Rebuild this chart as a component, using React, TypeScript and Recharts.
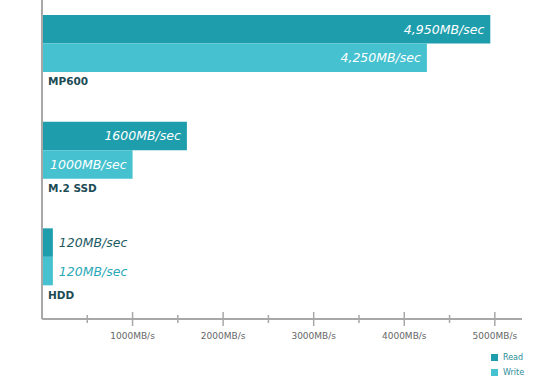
import React from 'react';
import { BarChart, Bar, XAxis, YAxis, LabelList } from 'recharts';

const categories = ['MP600', 'M.2 SSD', 'HDD'];
const readValues = [4950, 1600, 120];
const writeValues = [4250, 1000, 120];
const readLabels = ['4,950MB/sec', '1600MB/sec', '120MB/sec'];
const writeLabels = ['4,250MB/sec', '1000MB/sec', '120MB/sec'];
const xTicks = [500, 1000, 1500, 2000, 2500, 3000, 3500, 4000, 4500, 5000];

const READ = '#1e9ead';
const WRITE = '#45c1cf';
const AXIS = '#a8a8a8';
const FONT = '"DejaVu Sans", sans-serif';

const data = categories.map((name, i) => ({
  name,
  read: readValues[i],
  write: writeValues[i],
  readLabel: readLabels[i],
  writeLabel: writeLabels[i],
}));

// label inside the bar (white) when it fits, otherwise just to the right in the series colour
const valueLabel = (outsideColor: string) => (props: any) => {
  const { x, y, width, height, value } = props;
  const inside = width > 60;
  return (
    <text
      x={inside ? x + width - 6 : x + width + 6}
      y={y + height / 2}
      textAnchor={inside ? 'end' : 'start'}
      dominantBaseline="central"
      fill={inside ? '#ffffff' : outsideColor}
      fontStyle="italic"
      fontSize={12.5}
      fontFamily={FONT}
    >
      {value}
    </text>
  );
};

const XTick = (props: any) => {
  const { x, y, payload } = props;
  const major = payload.value % 1000 === 0;
  const h = major ? 7 : 4;
  return (
    <g>
      <line x1={x} x2={x} y1={y - h} y2={y + h} stroke={AXIS} strokeWidth={1.5} />
      {major && (
        <text x={x} y={y + 17} textAnchor="middle" dominantBaseline="central" fontSize={9} fill="#666" fontFamily={FONT}>
          {`${payload.value}MB/s`}
        </text>
      )}
    </g>
  );
};

const YTick = (props: any) => {
  const { x, y, payload } = props;
  return (
    <text x={x + 6} y={y + 38} dominantBaseline="central" fontSize={10.5} fontWeight="bold" fill="#1d4c55" fontFamily={FONT}>
      {payload.value}
    </text>
  );
};

export default function App() {
  return (
    <div style={{ position: 'absolute', left: 0, top: -10, width: 550, height: 386 }}>
      <BarChart
        width={550}
        height={386}
        data={data}
        layout="vertical"
        margin={{ top: 0, right: 28, left: 0, bottom: 0 }}
        barGap={0}
        barSize={28.5}
      >
        <XAxis
          type="number"
          domain={[0, 5300]}
          ticks={xTicks}
          interval={0}
          height={57}
          tickSize={0}
          tickMargin={0}
          tickLine={false}
          axisLine={{ stroke: AXIS, strokeWidth: 2 }}
          tick={<XTick />}
        />
        <YAxis
          type="category"
          dataKey="name"
          width={42}
          padding={{ top: 0, bottom: 9 }}
          tickSize={0}
          tickMargin={0}
          tickLine={false}
          axisLine={{ stroke: AXIS, strokeWidth: 2 }}
          tick={<YTick />}
        />
        <Bar dataKey="read" fill={READ} isAnimationActive={false}>
          <LabelList dataKey="readLabel" content={valueLabel('#1d5a63')} />
        </Bar>
        <Bar dataKey="write" fill={WRITE} isAnimationActive={false}>
          <LabelList dataKey="writeLabel" content={valueLabel('#2aa8b8')} />
        </Bar>
      </BarChart>
      <div style={{ position: 'absolute', left: 491, top: 360, fontFamily: FONT, fontSize: 8, color: '#2b8d99', lineHeight: '15px' }}>
        <div style={{ display: 'flex', alignItems: 'center', gap: 5 }}>
          <span style={{ width: 7, height: 7, background: READ, display: 'inline-block' }} />
          Read
        </div>
        <div style={{ display: 'flex', alignItems: 'center', gap: 5 }}>
          <span style={{ width: 7, height: 7, background: WRITE, display: 'inline-block' }} />
          Write
        </div>
      </div>
    </div>
  );
}
